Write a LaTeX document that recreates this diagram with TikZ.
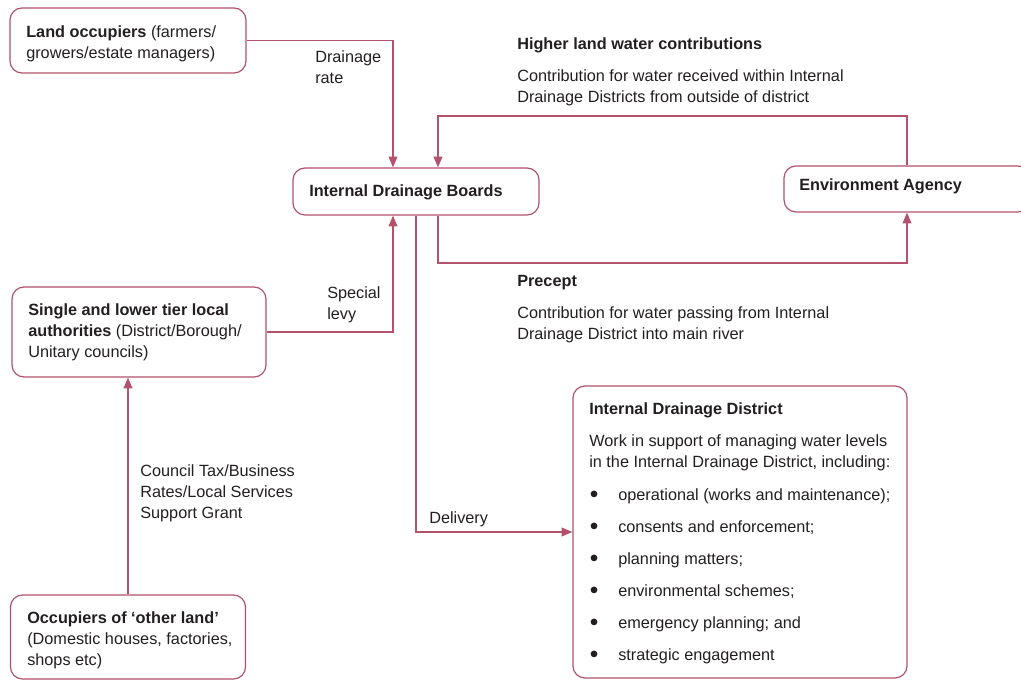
\documentclass[tikz,border=0pt]{standalone}
\usepackage{fontspec}
\usepackage{graphicx}
\setmainfont{Liberation Sans}
\usetikzlibrary{arrows.meta}
\definecolor{lc}{RGB}{178,82,108}
\definecolor{tc}{RGB}{35,31,32}
\newcommand{\bulletitem}{\makebox[21.75pt][l]{\hspace{0.5pt}\raisebox{-1.8pt}{\scalebox{1.5}{•}}}}
\begin{document}
\begin{tikzpicture}[x=0.75pt,y=-0.75pt,
 box/.style={draw=lc,line width=0.9pt,rounded corners=9pt,fill=white,inner sep=0},
 txt/.style={text=tc,font=\fontsize{12.2}{15.75}\selectfont,align=left,inner sep=0,anchor=base west},
 arr/.style={draw=lc,line width=1pt,-{Triangle[length=8pt,width=6.5pt]}}]
\useasboundingbox (0,0) rectangle (1021,680);
\clip (0,0) rectangle (1021,680);
% boxes
\node[box,minimum width=177pt,minimum height=48.75pt] (lo) at (128,40.5) {};
\node[box,minimum width=184.5pt,minimum height=35.25pt] (idb) at (416,191.5) {};
\node[box,minimum width=184.5pt,minimum height=34.5pt] (ea) at (907,189) {};
\node[box,minimum width=190.5pt,minimum height=67.5pt] (slt) at (139,332) {};
\node[box,minimum width=176.25pt,minimum height=63pt] (oc) at (128,637) {};
\node[box,minimum width=250.5pt,minimum height=219pt] (idd) at (740,532) {};
% box texts (anchor = baseline of last line)
\node[txt] (lot) at (26,59) {\textbf{Land occupiers} (farmers/\\growers/estate managers)};
\node[txt] (idbt) at (309,197) {\textbf{Internal Drainage Boards}};
\node[txt] (eat) at (799,191) {\textbf{Environment Agency}};
\node[txt] (sltt) at (28,358) {\textbf{Single and lower tier local}\\\textbf{authorities} (District/Borough/\\Unitary councils)};
\node[txt] (oct) at (27,665) {\textbf{Occupiers of ‘other land’}\\(Domestic houses, factories,\\shops etc)};
\node[txt] (iddt) at (589,660) {\textbf{Internal Drainage District}\\[8.25pt]
Work in support of managing water levels\\
in the Internal Drainage District, including:\\[9pt]
\bulletitem operational (works and maintenance);\\[8.25pt]
\bulletitem consents and enforcement;\\[8.25pt]
\bulletitem planning matters;\\[8.25pt]
\bulletitem environmental schemes;\\[8.25pt]
\bulletitem emergency planning; and\\[8.25pt]
\bulletitem strategic engagement};
% labels
\node[txt] (drl) at (315,84) {Drainage\\rate};
\node[txt] (hlw) at (517,50) {\textbf{Higher land water contributions}};
\node[txt] (hlwd) at (517,103) {Contribution for water received within Internal\\Drainage Districts from outside of district};
\node[txt] (pre) at (517,287) {\textbf{Precept}};
\node[txt] (pred) at (517,340) {Contribution for water passing from Internal\\Drainage District into main river};
\node[txt] (spl) at (327,320) {Special\\levy};
\node[txt] (ctl) at (140,518) {Council Tax/Business\\Rates/Local Services\\Support Grant};
\node[txt] (del) at (429,523) {Delivery};
% connectors
\coordinate (xa) at (393,0);
\coordinate (xb) at (438,116);
\coordinate (xc) at (438,263);
\draw[arr] (lo.east) -| (idb.north -| xa);
\draw[arr] (ea.north) |- (xb) -- (xb |- idb.north);
\draw[arr] (idb.south -| xc) -- (xc) -| (ea.south);
\draw[arr] (slt.east) -| (idb.south -| xa);
\draw[arr] (idb.south) |- (idd.west);
\draw[arr] (oc.north) -- (oc.north |- slt.south);
\end{tikzpicture}
\end{document}
